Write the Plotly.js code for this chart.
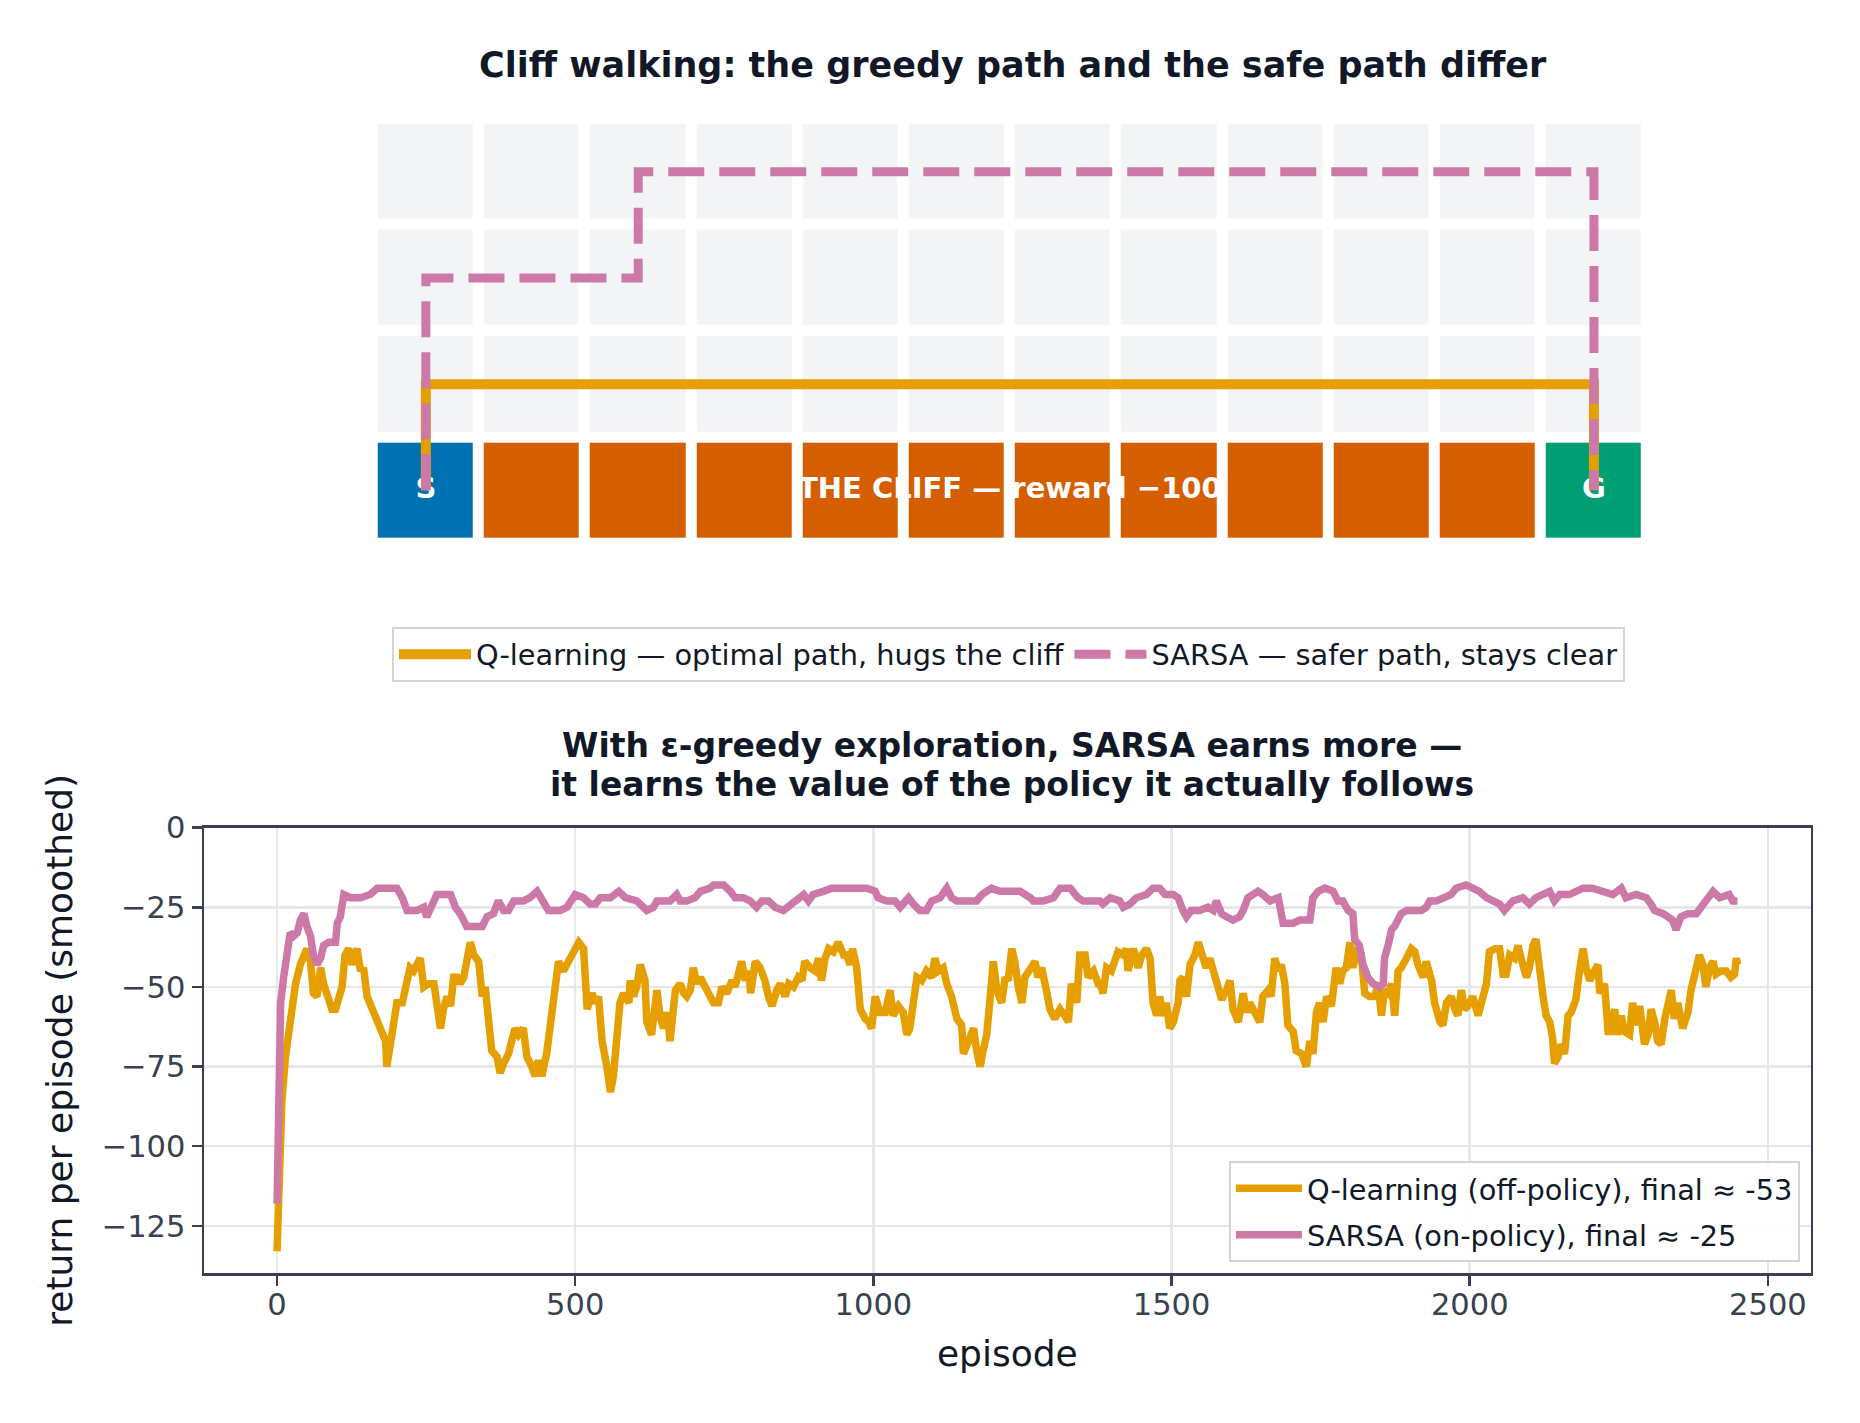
<!DOCTYPE html>
<html>
<head>
<meta charset="utf-8">
<script src="https://cdn.plot.ly/plotly-3.0.1.min.js"></script>
<style>
    html, body { margin: 0; padding: 0; background: #ffffff; }
    #chart { width: 1860px; height: 1423px; }
</style>
</head>
<body>
<div id="chart"></div>
<script>
// ---- grid world (cell kinds: 0 free, 1 start, 2 cliff, 3 goal), rows bottom -> top
const gridCols = [0, 1, 2, 3, 4, 5, 6, 7, 8, 9, 10, 11];
const gridRows = [0, 1, 2, 3];
const cellKinds = [
    [1, 2, 2, 2, 2, 2, 2, 2, 2, 2, 2, 3],
    [0, 0, 0, 0, 0, 0, 0, 0, 0, 0, 0, 0],
    [0, 0, 0, 0, 0, 0, 0, 0, 0, 0, 0, 0],
    [0, 0, 0, 0, 0, 0, 0, 0, 0, 0, 0, 0]
];

const cellLabels = ["S", "THE CLIFF — reward −100", "G"];
const cellLabelCols = [0, 5.5, 11];
const cellLabelRows = [0, 0, 0];

// ---- paths through the grid (cell indices)
const qPathCols = [0, 0, 11, 11];
const qPathRows = [0, 1, 1, 0];
const sarsaPathCols = [0, 0, 2, 2, 11, 11];
const sarsaPathRows = [0, 2, 2, 3, 3, 0];

const qPathName = "Q-learning — optimal path, hugs the cliff";
const sarsaPathName = "SARSA — safer path, stays clear";

// ---- smoothed returns
const qEpisodes = [
    0, 3, 8, 14, 22, 31, 39, 50, 56, 61, 67, 73, 78, 87, 92, 98, 103, 109, 114, 120,
    126, 134, 140, 145, 151, 159, 168, 176, 182, 184, 190, 196, 201, 210, 215, 223, 229, 235, 240, 246,
    254, 263, 268, 274, 279, 285, 291, 296, 302, 307, 313, 318, 324, 330, 338, 344, 349, 355, 360, 369,
    374, 380, 388, 399, 405, 413, 419, 427, 433, 438, 444, 452, 458, 464, 469, 472, 480, 489, 497, 506,
    514, 520, 528, 534, 539, 545, 553, 559, 564, 570, 575, 581, 590, 592, 598, 603, 609, 617, 620, 628,
    637, 642, 648, 654, 659, 668, 676, 682, 687, 693, 698, 704, 710, 715, 723, 732, 740, 746, 754, 763,
    768, 774, 779, 785, 791, 794, 802, 810, 818, 824, 830, 838, 844, 852, 858, 866, 874, 880, 885, 894,
    902, 908, 913, 919, 925, 933, 941, 950, 955, 961, 965, 972, 978, 986, 992, 997, 1003, 1011, 1020, 1028,
    1033, 1042, 1050, 1056, 1061, 1067, 1073, 1081, 1089, 1098, 1103, 1109, 1117, 1123, 1131, 1140, 1148, 1151, 1159, 1168,
    1173, 1179, 1184, 1190, 1196, 1201, 1207, 1215, 1221, 1226, 1232, 1237, 1243, 1249, 1254, 1263, 1271, 1276, 1282, 1290,
    1296, 1304, 1313, 1321, 1327, 1332, 1341, 1346, 1355, 1360, 1369, 1377, 1380, 1385, 1391, 1399, 1405, 1410, 1419, 1424,
    1427, 1436, 1444, 1450, 1458, 1464, 1469, 1475, 1480, 1486, 1491, 1497, 1503, 1511, 1514, 1519, 1525, 1531, 1539, 1545,
    1553, 1558, 1564, 1570, 1575, 1584, 1592, 1598, 1603, 1612, 1620, 1626, 1631, 1640, 1648, 1653, 1662, 1667, 1673, 1679,
    1684, 1690, 1695, 1704, 1709, 1718, 1726, 1732, 1737, 1743, 1748, 1754, 1760, 1768, 1776, 1782, 1787, 1793, 1799, 1804,
    1810, 1818, 1824, 1832, 1841, 1846, 1852, 1857, 1863, 1869, 1874, 1880, 1885, 1894, 1902, 1908, 1913, 1922, 1927, 1936,
    1941, 1950, 1955, 1961, 1969, 1975, 1980, 1986, 1991, 1997, 2005, 2014, 2019, 2028, 2033, 2042, 2050, 2056, 2061, 2067,
    2075, 2081, 2086, 2095, 2100, 2106, 2111, 2117, 2123, 2128, 2134, 2139, 2142, 2148, 2153, 2159, 2165, 2170, 2178, 2184,
    2190, 2195, 2201, 2209, 2215, 2218, 2226, 2232, 2237, 2243, 2248, 2254, 2259, 2268, 2273, 2279, 2285, 2293, 2299, 2304,
    2310, 2315, 2321, 2327, 2332, 2338, 2343, 2349, 2357, 2366, 2371, 2377, 2385, 2391, 2396, 2402, 2408, 2413, 2421, 2430,
    2438, 2444, 2447, 2449
];
const qReturns = [
    -133, -118, -86, -72, -59, -49, -43, -38, -42, -52, -53, -44, -49, -55, -57, -57, -54, -50, -40, -38,
    -43, -38, -45, -44, -53, -57, -61, -64, -67, -75, -67, -58, -55, -55, -51, -44, -45, -42, -41, -50,
    -49, -49, -57, -63, -57, -53, -56, -47, -47, -49, -47, -40, -36, -40, -42, -53, -50, -61, -70, -72,
    -77, -74, -71, -63, -65, -63, -72, -75, -78, -73, -78, -71, -62, -57, -47, -42, -45, -42, -39, -36,
    -38, -57, -52, -55, -53, -67, -75, -83, -78, -61, -55, -52, -55, -48, -53, -50, -43, -48, -61, -65,
    -51, -59, -63, -58, -67, -51, -49, -52, -53, -51, -44, -49, -47, -49, -52, -55, -55, -50, -52, -48,
    -50, -44, -42, -48, -45, -52, -42, -44, -48, -53, -56, -51, -49, -53, -49, -50, -47, -48, -42, -44,
    -45, -41, -48, -41, -38, -39, -36, -40, -40, -43, -38, -44, -57, -60, -61, -63, -53, -58, -58, -51,
    -59, -56, -58, -65, -63, -55, -47, -48, -45, -47, -41, -45, -44, -49, -53, -60, -62, -71, -67, -63,
    -70, -75, -70, -65, -53, -42, -51, -55, -47, -48, -38, -42, -50, -55, -47, -44, -42, -47, -44, -51,
    -57, -60, -57, -59, -61, -49, -55, -40, -40, -47, -45, -49, -49, -52, -44, -45, -42, -39, -40, -38,
    -45, -38, -44, -40, -38, -41, -55, -59, -53, -59, -55, -63, -61, -55, -48, -47, -53, -43, -40, -36,
    -41, -44, -41, -45, -48, -54, -51, -48, -57, -61, -52, -58, -55, -58, -61, -53, -51, -53, -41, -45,
    -43, -49, -62, -64, -70, -71, -75, -67, -71, -58, -55, -61, -53, -56, -44, -49, -45, -44, -36, -44,
    -39, -40, -52, -53, -53, -49, -59, -51, -52, -49, -59, -45, -44, -41, -38, -39, -43, -47, -42, -48,
    -55, -61, -62, -55, -53, -57, -59, -51, -57, -56, -53, -59, -55, -49, -39, -38, -38, -46, -46, -40,
    -41, -37, -41, -47, -44, -37, -35, -47, -53, -59, -61, -66, -74, -72, -68, -71, -59, -58, -54, -45,
    -38, -44, -48, -45, -43, -52, -49, -64, -64, -57, -65, -59, -64, -65, -55, -62, -56, -68, -65, -57,
    -61, -67, -68, -60, -55, -51, -60, -55, -63, -58, -51, -47, -40, -43, -50, -44, -42, -46, -45, -45,
    -47, -46, -41, -43
];

const sarsaEpisodes = [
    0, 3, 6, 11, 17, 22, 28, 34, 39, 45, 50, 56, 61, 67, 73, 78, 87, 98, 101, 106,
    112, 123, 140, 156, 168, 184, 201, 210, 218, 235, 246, 251, 257, 268, 291, 299, 307, 318, 330, 344,
    352, 363, 371, 380, 388, 397, 413, 424, 436, 444, 455, 475, 486, 500, 514, 525, 534, 542, 559, 573,
    584, 603, 620, 631, 637, 648, 659, 670, 676, 687, 701, 710, 726, 732, 749, 760, 768, 782, 793, 804,
    813, 824, 835, 849, 863, 874, 883, 891, 899, 916, 930, 950, 966, 989, 1003, 1008, 1022, 1036, 1045, 1059,
    1067, 1078, 1089, 1098, 1112, 1123, 1131, 1140, 1156, 1173, 1182, 1198, 1212, 1229, 1246, 1263, 1268, 1285, 1302, 1313,
    1330, 1343, 1352, 1369, 1380, 1385, 1397, 1413, 1419, 1430, 1441, 1458, 1469, 1480, 1489, 1503, 1511, 1519, 1525, 1533,
    1547, 1561, 1570, 1575, 1584, 1592, 1603, 1614, 1620, 1628, 1637, 1645, 1653, 1665, 1679, 1687, 1693, 1704, 1715, 1732,
    1737, 1746, 1757, 1771, 1779, 1787, 1796, 1804, 1807, 1815, 1821, 1829, 1838, 1849, 1855, 1857, 1863, 1869, 1874, 1880,
    1885, 1894, 1905, 1919, 1927, 1933, 1944, 1955, 1969, 1977, 1994, 2005, 2016, 2028, 2039, 2050, 2058, 2066, 2072, 2089,
    2100, 2111, 2134, 2142, 2151, 2167, 2181, 2190, 2206, 2223, 2240, 2254, 2262, 2279, 2296, 2304, 2310, 2324, 2335, 2340,
    2346, 2354, 2366, 2380, 2388, 2396, 2408, 2419, 2435, 2441, 2449
];
const sarsaReturns = [
    -118, -74, -55, -47, -39, -33, -34, -33, -29, -27, -31, -34, -40, -43, -41, -37, -36, -36, -30, -28,
    -21, -22, -22, -21, -19, -19, -19, -22, -26, -26, -25, -28, -25, -21, -21, -25, -27, -31, -31, -31,
    -28, -27, -23, -26, -26, -23, -23, -22, -20, -23, -26, -26, -25, -21, -22, -24, -24, -22, -22, -20,
    -22, -23, -26, -25, -23, -23, -23, -21, -23, -23, -22, -20, -19, -18, -18, -20, -22, -22, -23, -25,
    -23, -23, -25, -26, -24, -23, -21, -23, -21, -20, -19, -19, -19, -19, -20, -22, -23, -23, -25, -22,
    -24, -26, -26, -23, -22, -19, -22, -23, -23, -23, -21, -19, -20, -20, -20, -22, -23, -23, -22, -19,
    -19, -22, -23, -23, -23, -24, -22, -23, -25, -24, -22, -21, -19, -19, -21, -21, -22, -26, -28, -26,
    -26, -25, -26, -23, -27, -28, -29, -28, -26, -22, -21, -20, -21, -23, -22, -30, -30, -30, -29, -29,
    -22, -20, -19, -20, -23, -23, -26, -27, -35, -37, -43, -47, -49, -50, -49, -41, -37, -32, -31, -28,
    -27, -26, -26, -26, -25, -23, -23, -22, -21, -19, -18, -19, -20, -22, -23, -24, -26, -24, -23, -22,
    -24, -22, -20, -23, -21, -21, -20, -19, -19, -20, -21, -19, -22, -21, -22, -24, -26, -27, -28, -29,
    -32, -28, -27, -27, -25, -23, -20, -22, -21, -23, -23
];

const qCurveName = "Q-learning (off-policy), final ≈ -53";
const sarsaCurveName = "SARSA (on-policy), final ≈ -25";

const xTickVals = [0, 500, 1000, 1500, 2000, 2500];
const yTickVals = [0, -25, -50, -75, -100, -125];
const yTickText = ["0", "−25", "−50", "−75", "−100", "−125"];

// ---- styles
const FONT = "DejaVu Sans";
const INK = "#111827";
const AXIS_INK = "#374151";
const Q_COLOR = "#E69F00";
const SARSA_COLOR = "#CC79A7";

const cellScale = [
    [0, "#F3F4F6"], [0.25, "#F3F4F6"],
    [0.25, "#0072B2"], [0.5, "#0072B2"],
    [0.5, "#D55E00"], [0.75, "#D55E00"],
    [0.75, "#009E73"], [1, "#009E73"]
];

const traces = [
    {
        type: "heatmap",
        x: gridCols,
        y: gridRows,
        z: cellKinds,
        zmin: 0,
        zmax: 3,
        colorscale: cellScale,
        showscale: false,
        xgap: 11,
        ygap: 11,
        hoverinfo: "skip",
        xaxis: "x",
        yaxis: "y"
    },
    {
        type: "scatter",
        mode: "text",
        x: cellLabelCols,
        y: cellLabelRows,
        text: cellLabels,
        textfont: { family: FONT, size: 29, color: "#ffffff", weight: "bold" },
        showlegend: false,
        hoverinfo: "skip",
        xaxis: "x",
        yaxis: "y"
    },
    {
        type: "scatter",
        mode: "lines",
        x: qPathCols,
        y: qPathRows,
        name: qPathName,
        line: { color: Q_COLOR, width: 10 },
        legend: "legend",
        xaxis: "x",
        yaxis: "y"
    },
    {
        type: "scatter",
        mode: "lines",
        x: sarsaPathCols,
        y: sarsaPathRows,
        name: sarsaPathName,
        line: { color: SARSA_COLOR, width: 9, dash: "36px,15px" },
        legend: "legend",
        xaxis: "x",
        yaxis: "y"
    },
    {
        type: "scatter",
        mode: "lines",
        x: qEpisodes,
        y: qReturns,
        name: qCurveName,
        line: { color: Q_COLOR, width: 7.5 },
        legend: "legend2",
        legendgroup: "q",
        xaxis: "x2",
        yaxis: "y2"
    },
    {
        type: "scatter",
        mode: "lines",
        x: sarsaEpisodes,
        y: sarsaReturns,
        name: sarsaCurveName,
        line: { color: SARSA_COLOR, width: 7.5 },
        legend: "legend2",
        legendgroup: "sarsa",
        xaxis: "x2",
        yaxis: "y2"
    }
];

const layout = {
    width: 1860,
    height: 1423,
    margin: { l: 0, r: 0, t: 0, b: 0 },
    paper_bgcolor: "#ffffff",
    plot_bgcolor: "#ffffff",
    font: { family: FONT, color: INK },
    showlegend: true,

    xaxis: {
        domain: [0.2004, 0.8855],
        range: [-0.5, 11.5],
        visible: false,
        anchor: "y"
    },
    yaxis: {
        domain: [0.6181, 0.9166],
        range: [-0.5, 3.5],
        visible: false,
        anchor: "x"
    },

    xaxis2: {
        domain: [0.1097, 0.9734],
        range: [-122.45, 2571.45],
        anchor: "y2",
        tickvals: xTickVals,
        ticks: "outside",
        ticklen: 10,
        tickwidth: 2.5,
        tickcolor: AXIS_INK,
        ticklabelstandoff: -7,
        tickfont: { family: FONT, size: 30.5, color: AXIS_INK },
        showline: true,
        mirror: true,
        linecolor: AXIS_INK,
        linewidth: 2.5,
        showgrid: true,
        gridcolor: "#E5E7EB",
        gridwidth: 2.5,
        zeroline: false,
        title: { text: "episode", font: { family: FONT, size: 36, color: INK }, standoff: 20 }
    },
    yaxis2: {
        domain: [0.1054, 0.4184],
        range: [-139.8, 0],
        anchor: "x2",
        tickvals: yTickVals,
        ticktext: yTickText,
        ticks: "outside",
        ticklen: 10,
        tickwidth: 2.5,
        tickcolor: AXIS_INK,
        tickfont: { family: FONT, size: 30.5, color: AXIS_INK },
        showline: true,
        mirror: true,
        linecolor: AXIS_INK,
        linewidth: 2.5,
        showgrid: true,
        gridcolor: "#E5E7EB",
        gridwidth: 2.5,
        zeroline: false,
        title: { text: "return per episode (smoothed)", font: { family: FONT, size: 36, color: INK }, standoff: 18 }
    },

    legend: {
        orientation: "h",
        x: 0.5422,
        xanchor: "center",
        y: 0.5594,
        yanchor: "top",
        itemwidth: 72,
        bgcolor: "#ffffff",
        bordercolor: "#D1D5DB",
        borderwidth: 2,
        font: { family: FONT, size: 28.8, color: INK }
    },
    legend2: {
        x: 0.9677,
        xanchor: "right",
        y: 0.1131,
        yanchor: "bottom",
        itemwidth: 66,
        tracegroupgap: 6,
        bgcolor: "rgba(255,255,255,0.9)",
        bordercolor: "#D1D5DB",
        borderwidth: 2,
        font: { family: FONT, size: 28.8, color: INK }
    },

    annotations: [
        {
            text: "Cliff walking: the greedy path and the safe path differ",
            xref: "paper", yref: "paper",
            x: 0.5446, y: 0.9543,
            xanchor: "center", yanchor: "middle",
            showarrow: false,
            font: { family: FONT, size: 35, color: INK, weight: "bold" }
        },
        {
            text: "With ε-greedy exploration, SARSA earns more —",
            xref: "paper", yref: "paper",
            x: 0.5441, y: 0.4762,
            xanchor: "center", yanchor: "middle",
            showarrow: false,
            font: { family: FONT, size: 33, color: INK, weight: "bold" }
        },
        {
            text: "it learns the value of the policy it actually follows",
            xref: "paper", yref: "paper",
            x: 0.5441, y: 0.4487,
            xanchor: "center", yanchor: "middle",
            showarrow: false,
            font: { family: FONT, size: 33, color: INK, weight: "bold" }
        }
    ]
};

Plotly.newPlot("chart", traces, layout, { staticPlot: true, displayModeBar: false });
</script>
</body>
</html>
